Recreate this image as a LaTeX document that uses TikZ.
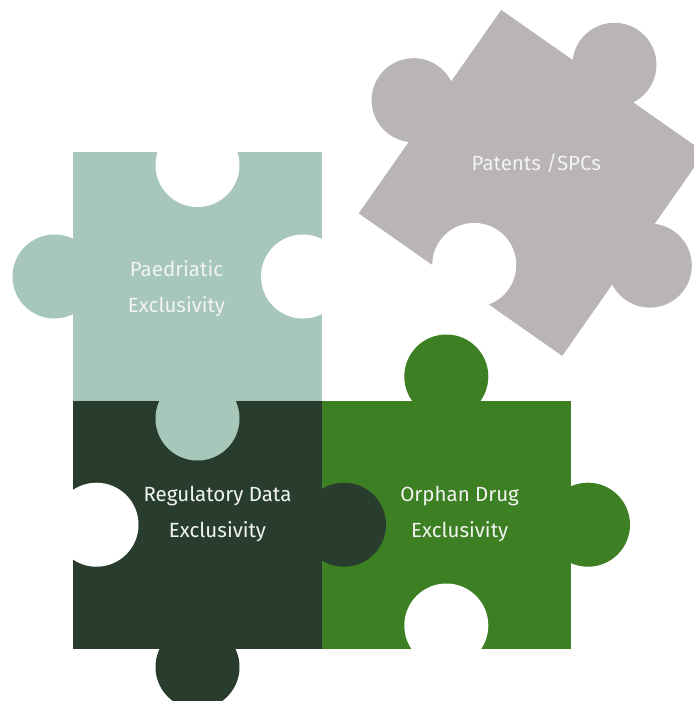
\documentclass[tikz,border=0pt]{standalone}
\usepackage{xcolor}
\usepackage{fontspec}
\setmainfont{Fira Sans}
\usepackage{tikz}
\definecolor{paedteal}{HTML}{A6C7BA}
\definecolor{regdark}{HTML}{293D2F}
\definecolor{orphgreen}{HTML}{3D7F23}
\definecolor{patgray}{HTML}{B9B5B4}
\definecolor{lbltext}{HTML}{F2F4F2}
\tikzset{
  lbl/.style={text=lbltext, font=\fontsize{20.5}{36}\selectfont, align=center, inner sep=0pt},
  tab/.style={radius=42pt},
  hole/.style={fill=white, radius=42pt},
}

\begin{document}
\begin{tikzpicture}[x=1pt, y=-1pt]

\clip (0,0) rectangle (694,701);
\fill[white] (0,0) rectangle (694,701);

% Patents piece, turned
\begin{scope}[shift={(531.7,182.9)}, rotate=-35]
  \fill[patgray] (-124.2,-124.2) -- (124.2,-124.2) -- (124.2,124.2) -- (-124.2,124.2) -- cycle;
  \fill[patgray, tab] (0,-144.2) circle;
  \fill[patgray, tab] (-144.2,0) circle;
  \fill[patgray, tab] (144.2,0) circle;
  \fill[hole] (0,100.2) circle;
\end{scope}

% Orphan Drug piece
\fill[orphgreen] (322,400.5) rectangle (570.5,648.5);
\fill[orphgreen, tab] (446.3,376.5) circle;
\fill[orphgreen, tab] (588,524.7) circle;
\fill[hole] (446.3,625.5) circle;

% Regulatory Data piece
\fill[regdark] (73,400.5) rectangle (322,648.5);
\fill[regdark, tab] (344,524.7) circle;
\fill[regdark, tab] (197.5,667) circle;
\fill[hole] (96.5,524.7) circle;

% Paediatric piece
\fill[paedteal] (73,152) rectangle (322,400.5);
\fill[paedteal, tab] (54.5,276.5) circle;
\fill[paedteal, tab] (197.5,418.5) circle;
\fill[hole] (197.5,165) circle;
\fill[hole] (303,276.5) circle;

\node[lbl] (patents) at (536.3,163) {Patents /SPCs};
\node[lbl] (paed) at (176.5,288.5) {Paedriatic\\Exclusivity};
\node[lbl] (regdata) at (217.5,513.7) {Regulatory Data\\Exclusivity};
\node[lbl] (orphan) at (459.6,513.7) {Orphan Drug\\Exclusivity};

\end{tikzpicture}
\end{document}
